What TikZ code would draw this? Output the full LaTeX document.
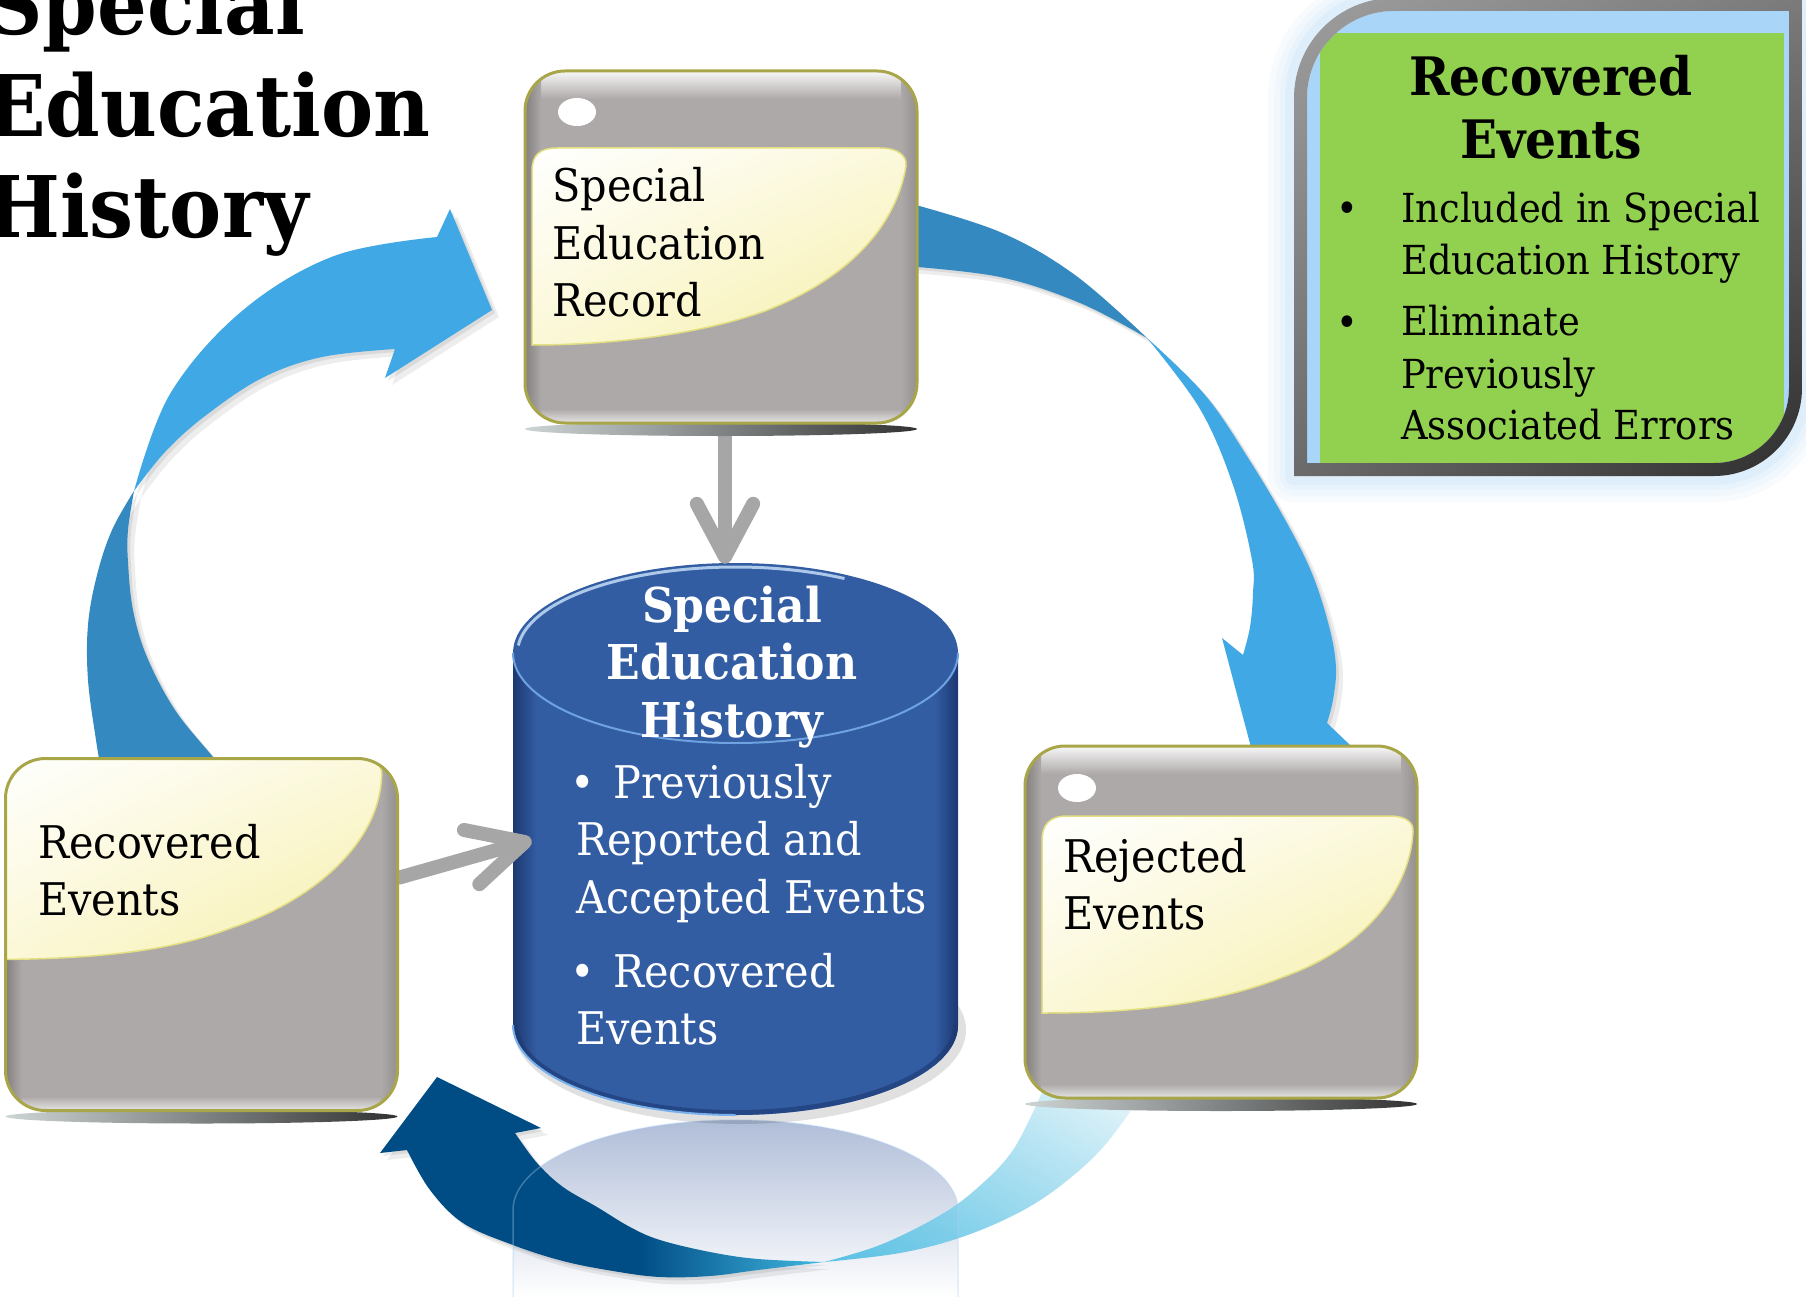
\documentclass[tikz,border=0pt]{standalone}
\usepackage{fontspec}
\setmainfont{DejaVu Serif}[FakeStretch=0.92]
\usetikzlibrary{calc,shadings}

\definecolor{boxgray}{RGB}{173,169,168}
\definecolor{boxborder}{RGB}{168,166,72}
\definecolor{creamy}{RGB}{246,239,168}
\definecolor{creamline}{RGB}{228,224,130}
\definecolor{lightarrow}{RGB}{65,168,230}
\definecolor{darkarrow}{RGB}{52,137,192}
\definecolor{navyarrow}{RGB}{0,76,132}
\definecolor{cyanarrow}{RGB}{64,184,224}
\definecolor{cylblue}{RGB}{51,93,163}
\definecolor{cyldark}{RGB}{28,56,112}
\definecolor{cyllight}{RGB}{120,176,235}
\definecolor{greenfill}{RGB}{146,208,80}
\definecolor{framebg}{RGB}{169,213,249}
\definecolor{glowblue}{RGB}{190,222,250}
\definecolor{arrowgray}{RGB}{166,166,166}
\definecolor{reflblue}{RGB}{150,168,204}
\definecolor{shadowL}{RGB}{205,212,212}
\definecolor{shadowR}{RGB}{50,50,50}

\pgfdeclarehorizontalshading{navyshade}{100bp}{color(0bp)=(navyarrow); color(25bp)=(navyarrow); color(54bp)=(navyarrow); color(75bp)=(cyanarrow); color(100bp)=(cyanarrow)}

\newcommand\drawiconbox[1]{%
  \shade[left color=shadowL, right color=shadowR] ($(#1.south)+(0,6)$) ellipse[x radius=196, y radius=7];
  \fill[boxgray, rounded corners=40pt] (#1.north west) rectangle (#1.south east);
  \begin{scope}
    \clip[rounded corners=40pt] (#1.north west) rectangle (#1.south east);
    \shade[top color=white!92!boxgray, bottom color=boxgray] (#1.north west) rectangle ($(#1.north east)+(0,28)$);
    \shade[top color=boxgray, bottom color=white!70!boxgray] ($(#1.south west)+(0,-14)$) rectangle (#1.south east);
    \shade[left color=black!25!boxgray, right color=boxgray] (#1.north west) rectangle ($(#1.south west)+(16,0)$);
    \shade[left color=boxgray, right color=black!15!boxgray] ($(#1.north east)+(-16,0)$) rectangle (#1.south east);
  \end{scope}
}
\newcommand\drawiconborder[1]{%
  \draw[boxborder, line width=3pt, rounded corners=40pt] (#1.north west) rectangle (#1.south east);
}
\newcommand\softshadow[1]{%
  \fill[black, opacity=0.07, shift={(7,7)}] #1;
  \fill[black, opacity=0.08, shift={(3,3)}] #1;
}

\begin{document}
\begin{tikzpicture}[x=1pt,y=-1pt,
  boxshape/.style={rectangle, minimum width=392pt, minimum height=352pt, inner sep=0pt, outer sep=0pt},
  boxtext/.style={anchor=base west, inner sep=0pt, font=\fontsize{45pt}{57.5pt}\selectfont},
  grayarrow/.style={draw=arrowgray, line width=14pt, line cap=round, line join=round},
  creamshape/.style={upper left=white, upper right=white!60!creamy, lower left=white!55!creamy, lower right=creamy, draw=creamline, line width=1.5pt}]
\useasboundingbox (0,0) rectangle (1806,1297);
\fill[white] (0,0) rectangle (1806,1297);

% ---------- green info box ----------
\def\gframe{(1294,476) -- (1294,98) arc[start angle=180, end angle=270, radius=100] -- (1802,-2) -- (1802,388) arc[start angle=0, end angle=90, radius=88] -- cycle}
\def\gframein{(1307,463) -- (1307,98) arc[start angle=180, end angle=270, radius=87] -- (1789,11) -- (1789,388) arc[start angle=0, end angle=90, radius=75] -- cycle}
\foreach \w/\o in {52/0.10, 40/0.12, 28/0.15, 18/0.2} {\draw[glowblue, line width=\w pt, opacity=\o, line join=round] \gframe;}
\fill[framebg] \gframein;
\begin{scope}
  \clip \gframein;
  \fill[greenfill] (1320,33) rectangle (1784,480);
\end{scope}
\shade[even odd rule, upper left=black!38, upper right=black!52, lower left=black!58, lower right=black!82] \gframe \gframein;

% ---------- named places ----------
\path node[boxshape] (ser) at (721,247) {}
      node[boxshape] (rec) at (201.5,934.5) {}
      node[boxshape] (rej) at (1221,922) {};
\path node[rectangle, minimum width=445pt, minimum height=553pt, inner sep=0pt] (cyl) at (735.5,838.5) {};

% ---------- reflection of the cylinder (behind the arrow) ----------
\shade[top color=reflblue, bottom color=white, opacity=0.75] (513,1297) -- (513,1210) arc[start angle=180, end angle=360, x radius=222.5, y radius=90] -- (958,1297) -- cycle;

% ---------- blue cycle arrows ----------
\def\laLight{plot[smooth, tension=0.6] coordinates {(134,491) (170,394) (242,311) (334,256) (437,237)} -- (450,209) -- (492,310) -- (385,378) -- plot[smooth, tension=0.6] coordinates {(395,349) (322,357) (262,378) (205,416) (165,452) (134,491)} -- cycle}
\def\laDark{plot[smooth, tension=0.6] coordinates {(134,491) (112,530) (97,575) (88,625) (88,680) (96,740) (102,775)} -- plot[smooth, tension=0.6] coordinates {(227,775) (213,757) (175,710) (147,657) (133,610) (128,562) (128,530) (134,491)} -- cycle}
\def\raDark{plot[smooth, tension=0.6] coordinates {(905,202) (1000,232) (1075,275) (1147,338)} -- plot[smooth, tension=0.6] coordinates {(1147,338) (1080,303) (1000,277) (905,266)} -- cycle}
\def\raLight{plot[smooth, tension=0.6] coordinates {(1147,338) (1205,395) (1250,461) (1288,525) (1313,576) (1330,630) (1336,668) (1333,700) (1327,723)} -- (1352,747) -- (1265,800) -- (1222,638) -- plot[smooth, tension=0.6] coordinates {(1243,655) (1250,627) (1253,593) (1252,560) (1233,485) (1200,409) (1147,338)} -- cycle}
\def\baDark{(437,1077) -- (380,1153) -- (407,1150) -- plot[smooth, tension=0.6] coordinates {(407,1150) (430,1190) (463,1223) (513,1245) (563,1261) (613,1271) (660,1277) (710,1276) (758,1270) (824,1262)} -- plot[smooth, tension=0.6] coordinates {(824,1262) (758,1259) (710,1252) (660,1240) (630,1227) (597,1207) (563,1187) (537,1163) (515,1133)} -- (541,1128) -- cycle}
\def\baLight{plot[smooth, tension=0.6] coordinates {(824,1262) (900,1253) (962,1237) (1020,1212) (1064,1183) (1105,1145) (1145,1090)} -- plot[smooth, tension=0.6] coordinates {(1043,1090) (1013,1150) (975,1190) (937,1217) (880,1245) (824,1262)} -- cycle}

\softshadow{\laDark}
\softshadow{\laLight}
\softshadow{\raDark}
\softshadow{\raLight}
\softshadow{\baDark}
\fill[darkarrow] \laDark;
\fill[lightarrow] \laLight;
\fill[darkarrow] \raDark;
\fill[lightarrow] \raLight;
\shade[lower left=cyanarrow!95!white, upper left=cyanarrow!60!white, lower right=cyanarrow!55!white, upper right=cyanarrow!12!white, opacity=0.9] \baLight;
\shade[shading=navyshade] \baDark;
\draw[cyllight!60!white, line width=1.5pt, opacity=0.35] (513,1297) -- (513,1210) arc[start angle=180, end angle=360, x radius=222.5, y radius=90] -- (958,1297);

% ---------- cylinder ----------
\def\cylbody{(513,653) -- (513,1025) arc[start angle=180, end angle=0, x radius=222.5, y radius=90] -- (958,653) -- cycle}
\fill[black, opacity=0.12] (740,1030) ellipse[x radius=226, y radius=94];
\fill[cylblue] \cylbody;
\begin{scope}
  \clip \cylbody;
  \shade[left color=cyldark, right color=cylblue] (513,640) rectangle (537,1120);
  \shade[left color=cylblue, right color=cyldark] (934,640) rectangle (958,1120);
  \draw[cyldark, line width=10pt, opacity=0.6] (513,1025) arc[start angle=180, end angle=0, x radius=222.5, y radius=90];
\end{scope}
\draw[cyllight, line width=2pt] (513,1025) arc[start angle=180, end angle=90, x radius=222.5, y radius=90];
\fill[cylblue] (735.5,653) ellipse[x radius=222.5, y radius=90];
\draw[cyllight!85!cylblue, line width=2pt] (513,653) arc[start angle=180, end angle=0, x radius=222.5, y radius=90];
\draw[white!55!cyllight, line width=3pt, opacity=0.85] ($(735.5,653)+(185:218 and 86)$) arc[start angle=185, end angle=300, x radius=218, y radius=86];

% ---------- gray connectors ----------
\coordinate (dstart) at ($(ser.south)+(4,6)$);
\coordinate (dtip) at ($(cyl.north)+(-10.5,-5)$);
\coordinate (lstart) at ($(rec.east)+(2,-57)$);
\coordinate (ltip) at ($(cyl.west)+(12,3.5)$);
\draw[grayarrow, shorten >=9pt] (dstart) -- (dtip);
\draw[grayarrow] ($(dtip)!60pt!28:(dstart)$) -- (dtip) -- ($(dtip)!60pt!-28:(dstart)$);
\draw[grayarrow, shorten >=9pt] (lstart) -- (ltip);
\draw[grayarrow] ($(ltip)!62pt!27:(lstart)$) -- (ltip) -- ($(ltip)!62pt!-27:(lstart)$);

% ---------- icon boxes ----------
\drawiconbox{ser}
\begin{scope}[shift={(ser.north west)}]
  \shadedraw[creamshape] (7,274) -- (7,100) .. controls (7,84) and (15,77) .. (32,77) -- (355,77) .. controls (372,77) and (382,84) .. (381,95) .. controls (372,150) and (330,205) .. (240,240) .. controls (170,265) and (80,274) .. (7,274) -- cycle;
  \fill[white] (52,41) ellipse[x radius=19, y radius=14];
\end{scope}
\drawiconborder{ser}

\drawiconbox{rej}
\begin{scope}[shift={(rej.north west)}]
  \shadedraw[creamshape] (17,267) -- (17,95) .. controls (17,78) and (25,70) .. (42,70) -- (365,70) .. controls (380,70) and (389,76) .. (388,86) .. controls (385,140) and (345,200) .. (258,231) .. controls (180,262) and (90,267) .. (17,267) -- cycle;
  \fill[white] (52,42) ellipse[x radius=19, y radius=14];
\end{scope}
\drawiconborder{rej}

\drawiconbox{rec}
\begin{scope}
  \clip[rounded corners=40pt] (rec.north west) rectangle (rec.south east);
  \begin{scope}[shift={(rec.north west)}]
    \shadedraw[creamshape] (-4,-4) -- (362,-4) .. controls (372,2) and (378,10) .. (376,20) .. controls (372,90) and (300,145) .. (227,169) .. controls (160,195) and (80,200) .. (-4,201) -- cycle;
  \end{scope}
\end{scope}
\drawiconborder{rec}

% ---------- texts ----------
\node[anchor=base west, inner sep=0pt, font=\fontsize{85pt}{101.5pt}\selectfont\bfseries] (title) at (-14,35) {\begin{tabular}[t]{@{}l@{}}Special\\Education\\History\end{tabular}};

\node[boxtext] (sertxt) at (552,202) {\begin{tabular}[t]{@{}l@{}}Special\\Education\\Record\end{tabular}};
\node[boxtext] (rectxt) at (38,858) {\begin{tabular}[t]{@{}l@{}}Recovered\\Events\end{tabular}};
\node[boxtext] (rejtxt) at (1063,872) {\begin{tabular}[t]{@{}l@{}}Rejected\\Events\end{tabular}};

\node[anchor=base, inner sep=0pt, text=white, font=\fontsize{48pt}{57.5pt}\selectfont\bfseries] (cyltitle) at (732,622) {\begin{tabular}[t]{@{}c@{}}Special\\Education\\History\end{tabular}};
\node[boxtext, text=white] (cylbodytxt) at (576,798) {\begin{tabular}[t]{@{}l@{}}\hspace*{37pt}Previously\\Reported and\\Accepted Events\\[16.5pt]\hspace*{37pt}Recovered\\Events\end{tabular}};
\node[anchor=base, inner sep=0pt, text=white, font=\fontsize{45pt}{57.5pt}\selectfont] (cb1) at (583,798) {•};
\node[anchor=base, inner sep=0pt, text=white, font=\fontsize{45pt}{57.5pt}\selectfont] (cb2) at (583,987) {•};

\node[anchor=base, inner sep=0pt, font=\fontsize{53pt}{63pt}\selectfont\bfseries] (gtitle) at (1551,96) {\begin{tabular}[t]{@{}c@{}}Recovered\\Events\end{tabular}};
\node[anchor=base west, inner sep=0pt, font=\fontsize{40pt}{52pt}\selectfont] (gbody) at (1401,223) {\begin{tabular}[t]{@{}l@{}}Included in Special\\Education History\\[9pt]Eliminate\\Previously\\Associated Errors\end{tabular}};
\node[anchor=base, inner sep=0pt, font=\fontsize{40pt}{52pt}\selectfont] (gb1) at (1347,223) {•};
\node[anchor=base, inner sep=0pt, font=\fontsize{40pt}{52pt}\selectfont] (gb2) at (1347,336) {•};
\end{tikzpicture}
\end{document}
